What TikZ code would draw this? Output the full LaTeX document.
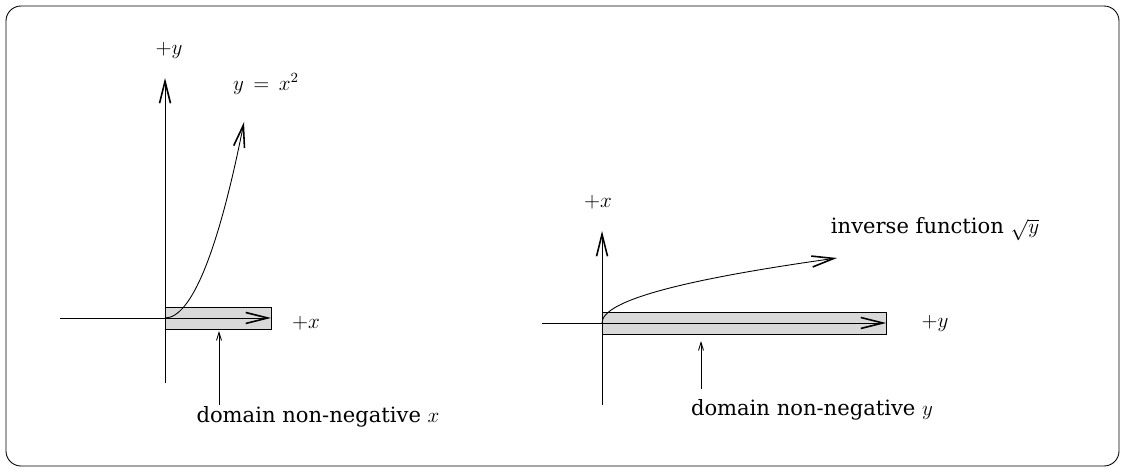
\documentclass[tikz,border=0pt]{standalone}
\usepackage{fontspec}
\setmainfont{DejaVu Serif}
\usetikzlibrary{arrows.meta, positioning}
\tikzset{
	frame/.style={draw, line width=0.5pt, rounded corners=3mm},
	axis/.style={line width=0.5pt, -{Straight Barb[length=4.4mm, width=2.2mm, line width=0.9pt]}},
	curve/.style={line width=0.5pt, -{Straight Barb[length=4.4mm, width=2.2mm, line width=0.9pt]}},
	pointer/.style={line width=0.5pt, -{Straight Barb[length=1.6mm, width=1.0mm]}},
	domainbox/.style={draw, line width=0.5pt, fill=black!15},
	lbl/.style={inner sep=0pt, font=\fontsize{12}{14}\selectfont}
}
\begin{document}
\begin{tikzpicture}[x=0.02cm, y=-0.02cm]
		\useasboundingbox (0,0) rectangle (1125,472);
		\draw [frame] (6,6) rectangle (1119,466);
		
		% Parabel y = x^2
		\coordinate (oL) at (165,318);
		\coordinate (xL) at (271,318);
		\draw [domainbox] (165,307) rectangle (271,329);
		\draw [axis] (60,318) -- (xL);
		\draw [axis] (165,383) -- (165,78);
		\draw [curve] (oL) .. controls (191,318) and (218,253) .. (244,122);
		\node (plusyL) [lbl] at (169,50) {$+y$};
		\node (funcL) [lbl] at (266,84) {$y\,=\,x^2$};
		\node (plusxL) [lbl] at (306,323) {$+x$};
		\node (domL) [lbl] at (318,417) {domain non-negative $x$};
		\coordinate (ptrL) at (219,405);
		\draw [pointer] (ptrL) -- (219,331);
		
		% Umkehrfunktion
		\coordinate (oR) at (602,323);
		\coordinate (xR) at (886,323);
		\draw [domainbox] (602,312) rectangle (886,334);
		\draw [axis] (542,323) -- (xR);
		\draw [axis, line width=0.45pt] (602,405) -- (602,231);
		\draw [curve] (oR) .. controls (602,301) and (680,280) .. (837,258);
		\node (plusxR) [lbl] at (598,202) {$+x$};
		\node (funcR) [lbl] at (935,229) {inverse function $\sqrt{y}$};
		\node (plusyR) [lbl] at (935,323) {$+y$};
		\node (domR) [lbl] at (812,410) {domain non-negative $y$};
		\coordinate (ptrR) at (701,389);
		\draw [pointer] (ptrR) -- (701,341);
	\end{tikzpicture}
\end{document}
